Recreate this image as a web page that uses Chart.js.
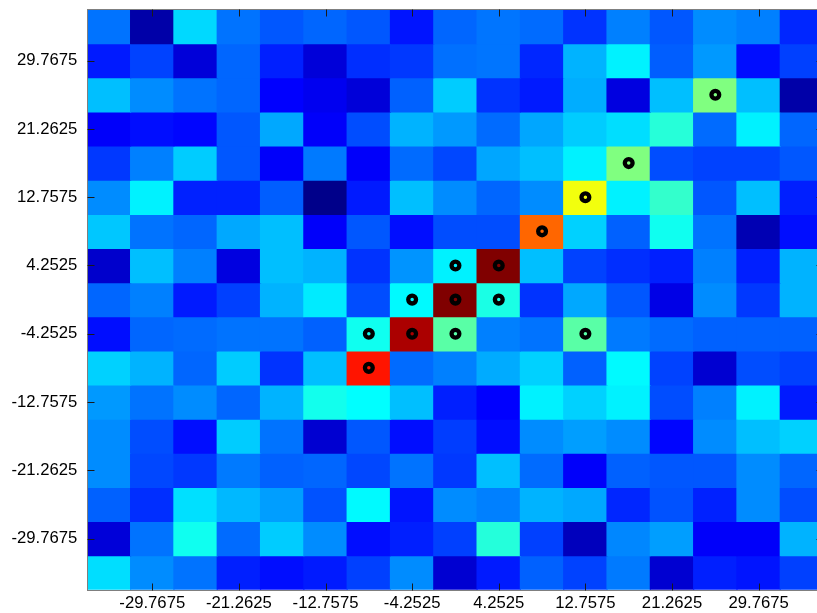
<!DOCTYPE html>
<html>
<head>
<meta charset="utf-8">
<title>Heatmap</title>
<script src="https://cdn.jsdelivr.net/npm/chart.js@4.4.0/dist/chart.umd.min.js"></script>
<style>
  html, body { margin: 0; padding: 0; background: #fff; overflow: hidden; }
  /* the plot runs a few pixels past the right edge, so the canvas is wider than the frame */
  #wrap { width: 817px; height: 613px; overflow: hidden; }
  canvas { display: block; }
</style>
</head>
<body>
<div id="wrap"><canvas id="heatmap" width="824" height="613"></canvas></div>
<script>
// cell centres, grid step 4.2525
const xCenters = [-34.02, -29.7675, -25.515, -21.2625, -17.01, -12.7575, -8.505, -4.2525, 0,
                  4.2525, 8.505, 12.7575, 17.01, 21.2625, 25.515, 29.7675, 34.02];
// rows listed top to bottom
const yCenters = [34.02, 29.7675, 25.515, 21.2625, 17.01, 12.7575, 8.505, 4.2525, 0,
                  -4.2525, -8.505, -12.7575, -17.01, -21.2625, -25.515, -29.7675, -34.02];

const xTickLabels = ['-29.7675', '-21.2625', '-12.7575', '-4.2525', '4.2525', '12.7575', '21.2625', '29.7675'];
const yTickLabels = ['-29.7675', '-21.2625', '-12.7575', '-4.2525', '4.2525', '12.7575', '21.2625', '29.7675'];

// normalised intensity per cell (0..1), one row per yCenters entry
const cellValues = [
  [0.2375, 0.04, 0.3375, 0.2375, 0.21, 0.225, 0.21, 0.145, 0.225, 0.24, 0.23, 0.175, 0.25, 0.21, 0.2625, 0.25, 0.1625],
  [0.15, 0.19, 0.0875, 0.225, 0.155, 0.0875, 0.17, 0.18, 0.235, 0.24, 0.1625, 0.3, 0.3625, 0.2175, 0.275, 0.1375, 0.1875],
  [0.3125, 0.2625, 0.2375, 0.225, 0.125, 0.11, 0.0875, 0.22, 0.325, 0.175, 0.15, 0.295, 0.095, 0.3125, 0.5, 0.3125, 0.04],
  [0.12, 0.1375, 0.13, 0.21, 0.29, 0.12, 0.2, 0.3, 0.275, 0.23, 0.2875, 0.325, 0.3425, 0.4125, 0.23, 0.3625, 0.225],
  [0.18, 0.25, 0.325, 0.21, 0.12, 0.245, 0.12, 0.23, 0.195, 0.2875, 0.3125, 0.3625, 0.5, 0.2, 0.19, 0.19, 0.21],
  [0.2625, 0.3625, 0.1575, 0.1575, 0.2175, 0.01, 0.15, 0.3125, 0.2625, 0.225, 0.2625, 0.6125, 0.3625, 0.425, 0.21, 0.3125, 0.155],
  [0.32, 0.2375, 0.225, 0.29, 0.3125, 0.12, 0.21, 0.1375, 0.2, 0.2, 0.775, 0.33, 0.22, 0.39, 0.2375, 0.05, 0.1375],
  [0.075, 0.3125, 0.25, 0.095, 0.3125, 0.3, 0.175, 0.27, 0.3625, 1.0, 0.3125, 0.19, 0.17, 0.155, 0.25, 0.155, 0.3],
  [0.225, 0.25, 0.15, 0.1875, 0.3, 0.355, 0.2, 0.37, 1.0, 0.4, 0.175, 0.29, 0.21, 0.1, 0.2625, 0.18, 0.3],
  [0.1375, 0.225, 0.23, 0.2375, 0.2375, 0.22, 0.39, 0.9575, 0.4625, 0.25, 0.2375, 0.4625, 0.245, 0.23, 0.22, 0.22, 0.22],
  [0.33, 0.3, 0.225, 0.325, 0.175, 0.3125, 0.855, 0.23, 0.25, 0.2925, 0.33, 0.22, 0.37, 0.19, 0.08, 0.2, 0.1875],
  [0.275, 0.2375, 0.2625, 0.225, 0.3, 0.3925, 0.375, 0.3125, 0.155, 0.125, 0.3625, 0.33, 0.3625, 0.2, 0.25, 0.3625, 0.15],
  [0.2625, 0.2, 0.1375, 0.325, 0.2375, 0.08, 0.21, 0.1375, 0.185, 0.1375, 0.2625, 0.28, 0.2625, 0.13, 0.2625, 0.3125, 0.33],
  [0.2625, 0.195, 0.18, 0.245, 0.22, 0.225, 0.195, 0.2375, 0.18, 0.3125, 0.23, 0.12, 0.22, 0.21, 0.21, 0.2625, 0.225],
  [0.22, 0.17, 0.345, 0.305, 0.28, 0.205, 0.37, 0.145, 0.2625, 0.25, 0.3, 0.29, 0.1625, 0.205, 0.1575, 0.2625, 0.2],
  [0.0875, 0.2375, 0.39, 0.23, 0.325, 0.2625, 0.1375, 0.155, 0.1875, 0.41, 0.1875, 0.06, 0.2575, 0.28, 0.12, 0.12, 0.3],
  [0.3425, 0.2625, 0.2375, 0.155, 0.1375, 0.15, 0.1875, 0.2625, 0.08, 0.15, 0.22, 0.19, 0.245, 0.08, 0.155, 0.145, 0.1875]
];

// detected peaks (ring markers)
const peakX = [25.515, 17.01, 12.7575, 8.505, 0, 4.2525, -4.2525, 0, 4.2525, -8.505, -4.2525, 0, 12.7575, -8.505];
const peakY = [25.515, 17.01, 12.7575, 8.505, 4.2525, 4.2525, 0, 0, 0, -4.2525, -4.2525, -4.2525, -4.2525, -8.505];

// jet colormap
function jet(v) {
  const clamp = t => Math.max(0, Math.min(1, t));
  const r = clamp(1.5 - Math.abs(4 * v - 3));
  const g = clamp(1.5 - Math.abs(4 * v - 2));
  const b = clamp(1.5 - Math.abs(4 * v - 1));
  return `rgb(${Math.round(r * 255)}, ${Math.round(g * 255)}, ${Math.round(b * 255)})`;
}

const step = xCenters[1] - xCenters[0];
const half = step / 2;
const xMin = xCenters[0] - half;
const xMax = xCenters[xCenters.length - 1] + half;
const yMin = yCenters[yCenters.length - 1] - half;
const yMax = yCenters[0] + half;

// one floating-bar dataset per row, each bar spans one cell
const rowDatasets = cellValues.map((row, r) => ({
  type: 'bar',
  label: 'row ' + r,
  data: row.map((v, c) => ({ x: xCenters[c], y: [yCenters[r] - half, yCenters[r] + half] })),
  backgroundColor: row.map(jet),
  borderWidth: 0,
  grouped: false,
  barPercentage: 1,
  categoryPercentage: 1,
  inflateAmount: 0.6,
  order: 1
}));

const peakDataset = {
  type: 'scatter',
  label: 'peaks',
  data: peakX.map((x, i) => ({ x, y: peakY[i] })),
  pointStyle: 'circle',
  pointRadius: 3.9,
  borderWidth: 4.3,
  borderColor: '#000',
  backgroundColor: 'rgba(0,0,0,0)',
  order: 0
};

// box around the plot plus inward tick marks on all four sides
const frameAndTicks = {
  id: 'frameAndTicks',
  afterDraw(chart) {
    const { ctx, chartArea: a, scales: { x, y } } = chart;
    const len = 7;
    ctx.save();
    ctx.lineWidth = 1;
    ctx.strokeStyle = '#7f7f7f';
    const L = Math.floor(a.left) + 0.5, T = Math.floor(a.top) + 0.5;
    const B = Math.round(a.bottom) + 0.5, R = Math.round(a.right) - 0.5;
    ctx.strokeRect(L, T, R - L, B - T);

    ctx.strokeStyle = '#1a1a1a';
    ctx.beginPath();
    x.ticks.forEach(t => {
      const px = Math.round(x.getPixelForValue(t.value)) + 0.5;
      ctx.moveTo(px, T); ctx.lineTo(px, T + len);
      ctx.moveTo(px, B); ctx.lineTo(px, B - len);
    });
    y.ticks.forEach(t => {
      const py = Math.round(y.getPixelForValue(t.value)) + 0.5;
      ctx.moveTo(L, py); ctx.lineTo(L + len, py);
      ctx.moveTo(R, py); ctx.lineTo(R - len, py);
    });
    ctx.stroke();
    ctx.restore();
  }
};

const tickFont = { family: '"Liberation Sans", Arial, Helvetica, sans-serif', size: 16.7 };

new Chart(document.getElementById('heatmap'), {
  type: 'bar',
  data: { datasets: [peakDataset, ...rowDatasets] },
  options: {
    responsive: false,
    animation: false,
    events: [],
    layout: { autoPadding: false, padding: { top: 9.5, right: 0.4, left: 0, bottom: 0 } },
    plugins: {
      legend: { display: false },
      tooltip: { enabled: false }
    },
    scales: {
      x: {
        type: 'linear',
        offset: false,
        min: xMin,
        max: xMax,
        grid: { display: false, drawTicks: false },
        border: { display: false },
        afterBuildTicks: scale => {
          scale.ticks = xTickLabels.map(l => ({ value: Number(l) }));
        },
        afterFit: scale => {
          scale.height = 23.3;
          scale.paddingLeft = 0;
          scale.paddingRight = 0;
        },
        ticks: {
          autoSkip: false,
          maxRotation: 0,
          minRotation: 0,
          padding: 3.8,
          color: '#000',
          font: tickFont,
          callback: (value, index) => xTickLabels[index]
        }
      },
      y: {
        type: 'linear',
        min: yMin,
        max: yMax,
        beginAtZero: false,
        grid: { display: false, drawTicks: false },
        border: { display: false },
        afterBuildTicks: scale => {
          scale.ticks = yTickLabels.map(l => ({ value: Number(l) }));
        },
        afterFit: scale => {
          scale.width = 87.3;
          scale.paddingTop = 0;
          scale.paddingBottom = 0;
        },
        ticks: {
          autoSkip: false,
          padding: 10,
          color: '#000',
          font: tickFont,
          callback: (value, index) => yTickLabels[index]
        }
      }
    }
  },
  plugins: [frameAndTicks]
});
</script>
</body>
</html>
